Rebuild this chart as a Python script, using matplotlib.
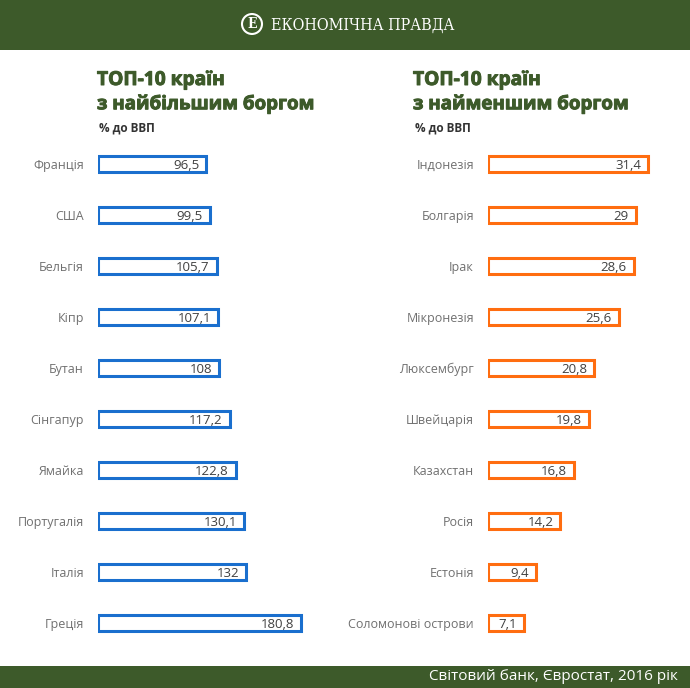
import matplotlib
matplotlib.use("Agg")
import matplotlib.pyplot as plt
import matplotlib.patheffects as pe
from matplotlib.patches import Rectangle, Circle

plt.rcParams['font.family'] = ['Open Sans', 'DejaVu Sans']

left_countries = ["Франція", "США", "Бельгія", "Кіпр", "Бутан", "Сінгапур",
                  "Ямайка", "Португалія", "Італія", "Греція"]
left_values = [96.5, 99.5, 105.7, 107.1, 108, 117.2, 122.8, 130.1, 132, 180.8]
left_labels = ["96,5", "99,5", "105,7", "107,1", "108", "117,2", "122,8", "130,1", "132", "180,8"]

right_countries = ["Індонезія", "Болгарія", "Ірак", "Мікронезія", "Люксембург",
                   "Швейцарія", "Казахстан", "Росія", "Естонія", "Соломонові острови"]
right_values = [31.4, 29, 28.6, 25.6, 20.8, 19.8, 16.8, 14.2, 9.4, 7.1]
right_labels = ["31,4", "29", "28,6", "25,6", "20,8", "19,8", "16,8", "14,2", "9,4", "7,1"]

W, H = 690, 688
fig = plt.figure(figsize=(6.9, 6.88), dpi=100)
fig.patch.set_facecolor("white")

GREEN = "#3d5a2a"
BLUE = "#1a6fce"
ORANGE = "#ff6d10"

def fx(px):
    return px / W

def fy(py):
    return 1 - py / H

# header band
fig.patches.append(Rectangle((0, fy(50)), 1, 50 / H, transform=fig.transFigure,
                             facecolor=GREEN, edgecolor="none", zorder=0))
fig.patches.append(Circle((fx(252), fy(24)), 10 / W, transform=fig.transFigure,
                          facecolor="none", edgecolor="white", linewidth=1.5, zorder=1))
fig.text(fx(252), fy(24), "Е", color="white", fontsize=10, fontweight="bold",
         ha="center", va="center", family="DejaVu Serif", stretch="condensed")
fig.text(fx(271), fy(25), "ЕКОНОМІЧНА ПРАВДА", color="white", fontsize=11.5,
         ha="left", va="center", family="DejaVu Serif", stretch="condensed")

# footer band
fig.patches.append(Rectangle((0, 0), 1, 22 / H, transform=fig.transFigure,
                             facecolor=GREEN, edgecolor="none", zorder=0))
fig.text(fx(678), fy(677), "Світовий банк, Євростат, 2016 рік", color="white",
         fontsize=11, ha="right", va="center")

# titles
bold_fx = [pe.withStroke(linewidth=0.7, foreground=GREEN)]
for x0, l2 in [(97, "з найбільшим боргом"), (413, "з найменшим боргом")]:
    fig.text(fx(x0), fy(80), "ТОП-10 країн", color=GREEN, fontsize=13.8,
             fontweight="bold", ha="left", va="center", path_effects=bold_fx)
    fig.text(fx(x0), fy(104), l2, color=GREEN, fontsize=13.5,
             fontweight="bold", ha="left", va="center", path_effects=bold_fx)
    fig.text(fx(x0 + 2), fy(128), "% до ВВП", color="#333333", fontsize=8.5,
             fontweight="bold", ha="left", va="center")

top_px, bot_px = 138.5, 648.5

def panel(x_px, px_per_unit, xmax, countries, values, labels, color):
    width_px = xmax * px_per_unit
    ax = fig.add_axes([fx(x_px), fy(bot_px), width_px / W, (bot_px - top_px) / H])
    ax.set_xlim(0, xmax)
    ax.set_ylim(9.5, -0.5)
    ax.axis("off")
    ys = list(range(len(values)))
    ax.barh(ys, values, height=0.3, left=0, facecolor="white", edgecolor=color,
            linewidth=2.2)
    off = 7 / px_per_unit
    for y, v, lab, c in zip(ys, values, labels, countries):
        ax.text(v - off, y + 0.02, lab, ha="right", va="center", fontsize=9.5,
                color="#404040")
        ax.text(-14 / px_per_unit, y + 0.02, c, ha="right", va="center", fontsize=9,
                color="#707070", clip_on=False)
    return ax

panel(98, 1.123, 200, left_countries, left_values, left_labels, BLUE)
panel(488, 5.1, 35, right_countries, right_values, right_labels, ORANGE)

fig.savefig("out.png", dpi=100, facecolor="white")
